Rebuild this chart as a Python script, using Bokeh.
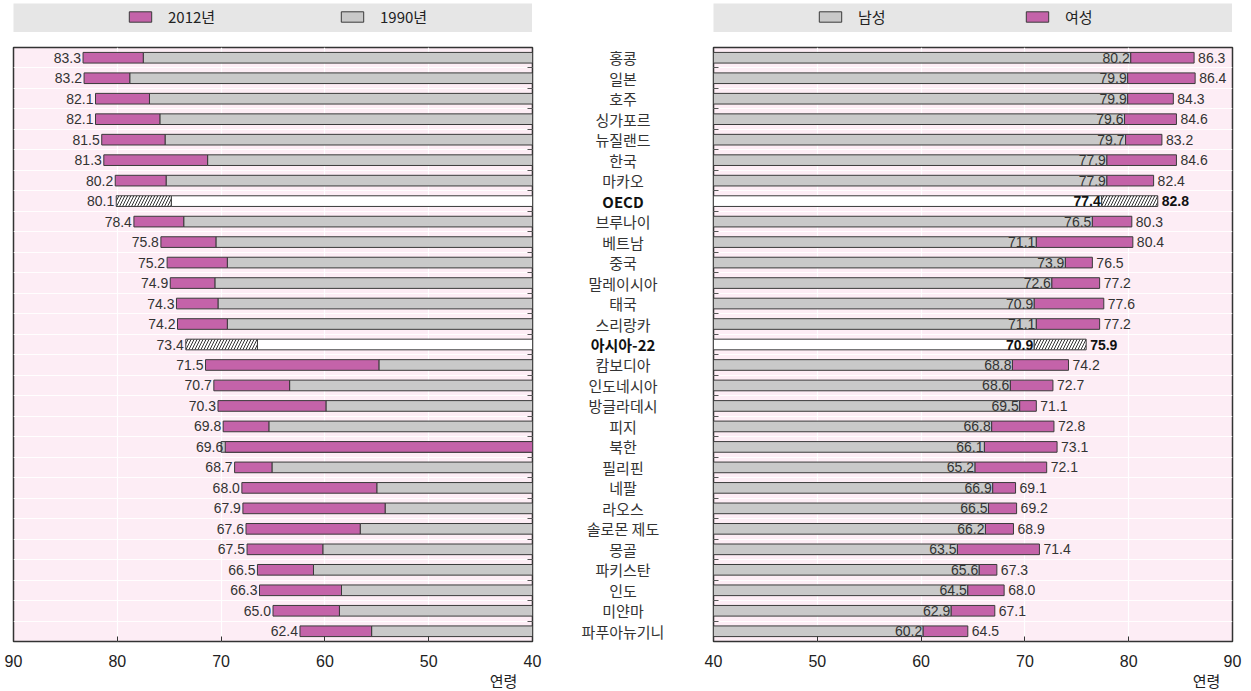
from bokeh.plotting import figure
from bokeh.models import (ColumnDataSource, Range1d, LinearAxis, FixedTicker, Grid,
                          Legend, LegendItem, CustomJSTickFormatter, Spacer)
from bokeh.layouts import row, column
from bokeh.core.properties import value
from bokeh.embed import file_html
from bokeh.resources import INLINE

# ---------------- data ----------------
countries = ["홍콩", "일본", "호주", "싱가포르", "뉴질랜드", "한국", "마카오", "OECD",
             "브루나이", "베트남", "중국", "말레이시아", "태국", "스리랑카", "아시아-22",
             "캄보디아", "인도네시아", "방글라데시", "피지", "북한", "필리핀", "네팔",
             "라오스", "솔로몬 제도", "몽골", "파키스탄", "인도", "미얀마", "파푸아뉴기니"]
le_2012 = [83.3, 83.2, 82.1, 82.1, 81.5, 81.3, 80.2, 80.1, 78.4, 75.8, 75.2, 74.9, 74.3,
           74.2, 73.4, 71.5, 70.7, 70.3, 69.8, 69.6, 68.7, 68.0, 67.9, 67.6, 67.5, 66.5,
           66.3, 65.0, 62.4]
le_1990 = [77.5, 78.8, 76.9, 75.9, 75.4, 71.3, 75.3, 74.8, 73.6, 70.5, 69.4, 70.6, 70.3,
           69.4, 66.5, 54.8, 63.4, 59.9, 65.4, 70.0, 65.1, 55.0, 54.2, 56.6, 60.2, 61.1,
           58.4, 58.6, 55.5]
male_2012 = [80.2, 79.9, 79.9, 79.6, 79.7, 77.9, 77.9, 77.4, 76.5, 71.1, 73.9, 72.6, 70.9,
             71.1, 70.9, 68.8, 68.6, 69.5, 66.8, 66.1, 65.2, 66.9, 66.5, 66.2, 63.5, 65.6,
             64.5, 62.9, 60.2]
female_2012 = [86.3, 86.4, 84.3, 84.6, 83.2, 84.6, 82.4, 82.8, 80.3, 80.4, 76.5, 77.2, 77.6,
               77.2, 75.9, 74.2, 72.7, 71.1, 72.8, 73.1, 72.1, 69.1, 69.2, 68.9, 71.4, 67.3,
               68.0, 67.1, 64.5]
aggregates = ["OECD", "아시아-22"]
x_ticks = [40, 50, 60, 70, 80, 90]
legend_left = ["2012년", "1990년"]
legend_right = ["남성", "여성"]
axis_title = "연령"

# ---------------- style ----------------
KR = "Noto Sans CJK KR"
NUM = "Liberation Sans"
PINK = "#c463a9"
GRAY = "#c9c9c9"
EDGE = "#3a3a3a"
BG = "#fdedf5"
BAND = "#e6e6e6"
BASE = 40
BAR_H = 0.52

n = len(countries)
idx = list(range(n))
is_agg = [c in aggregates for c in countries]
bounds = [i + 0.5 for i in range(n - 1)]
yr = Range1d(n - 0.5, -0.5)

gfill = ["white" if a else GRAY for a in is_agg]
pfill = ["white" if a else PINK for a in is_agg]
hatch = ["/" if a else " " for a in is_agg]
fstyle = ["bold" if a else "normal" for a in is_agg]
tcol = ["#111111" if a else "#333333" for a in is_agg]


def make_panel(xr, tick_side, title_x, border_left, border_right):
    p = figure(frame_width=519, frame_height=594, x_range=xr, y_range=yr,
               x_axis_type=None, y_axis_type=None, output_backend="svg",
               toolbar_location=None, min_border_top=15, min_border_bottom=0,
               min_border_left=border_left, min_border_right=border_right,
               background_fill_color=BG, border_fill_color="white",
               outline_line_color="#333333", outline_line_width=1.5)
    p.add_layout(Grid(dimension=0, ticker=FixedTicker(ticks=x_ticks[1:-1]),
                      grid_line_color="white", grid_line_width=1.2))
    p.add_layout(Grid(dimension=1, ticker=FixedTicker(ticks=bounds),
                      grid_line_color="white", grid_line_width=1, grid_line_alpha=0.9))
    ax = LinearAxis(ticker=FixedTicker(ticks=x_ticks), major_tick_in=5, major_tick_out=0,
                    minor_tick_in=0, minor_tick_out=0, axis_line_color=None,
                    major_tick_line_color="#333333", major_label_text_font=NUM,
                    major_label_text_font_size="16px", major_label_text_color="#222222",
                    major_label_standoff=13)
    p.add_layout(ax, "below")
    ax2 = LinearAxis(ticker=FixedTicker(ticks=[title_x]),
                     formatter=CustomJSTickFormatter(code="return '%s'" % axis_title),
                     major_tick_in=0, major_tick_out=0, minor_tick_in=0, minor_tick_out=0,
                     axis_line_color=None, major_label_text_font=KR,
                     major_label_text_font_size="15px", major_label_text_color="#222222",
                     major_label_standoff=0)
    p.add_layout(ax2, "below")
    ay = LinearAxis(ticker=FixedTicker(ticks=bounds),
                    formatter=CustomJSTickFormatter(code="return ''"),
                    major_tick_in=5, major_tick_out=0, minor_tick_in=0, minor_tick_out=0,
                    axis_line_color=None, major_tick_line_color="#555555",
                    major_label_text_font_size="0px", major_label_standoff=0)
    p.add_layout(ay, tick_side)
    return p


# ---------------- left panel: 2012 vs 1990 ----------------
pink_end = [b if a > b else BASE for a, b in zip(le_2012, le_1990)]
src_l = ColumnDataSource(dict(y=idx, v12=le_2012, v90=le_1990, pend=pink_end,
                              base=[BASE] * n, gfill=gfill, pfill=pfill, hatch=hatch,
                              lab=["%.1f" % v for v in le_2012]))
left = make_panel(Range1d(90, 40), "right", 42.8, 13, 10)
left.hbar(y="y", left="base", right="v90", height=BAR_H, fill_color="gfill",
          line_color=EDGE, line_width=1, source=src_l)
left.hbar(y="y", left="v12", right="pend", height=BAR_H, fill_color="pfill",
          hatch_pattern="hatch", hatch_color="#333333", hatch_scale=6, hatch_weight=1,
          line_color=EDGE, line_width=1, source=src_l)
left.text(x="v12", y="y", text="lab", x_offset=-2, text_align="right",
          text_baseline="middle", text_font=value(NUM), text_font_size="14px",
          text_color="#333333", source=src_l)

# ---------------- middle: country names ----------------
mid = figure(frame_width=161, frame_height=594, x_range=Range1d(0, 1), y_range=yr,
             x_axis_type=None, y_axis_type=None, output_backend="svg",
             toolbar_location=None, min_border_top=15, min_border_bottom=0,
             min_border_left=0, min_border_right=0, outline_line_color=None,
             background_fill_color="white", border_fill_color="white")
src_m = ColumnDataSource(dict(y=idx, x=[0.5] * n, name=countries, st=fstyle, col=tcol))
mid.text(x="x", y="y", text="name", text_align="center", text_baseline="middle",
         text_font=value(KR), text_font_size="15px", text_font_style="st",
         text_color="col", source=src_m)

# ---------------- right panel: male vs female ----------------
src_r = ColumnDataSource(dict(y=idx, m=male_2012, f=female_2012, base=[BASE] * n,
                              gfill=gfill, pfill=pfill, hatch=hatch, st=fstyle, col=tcol,
                              mlab=["%.1f" % v for v in male_2012],
                              flab=["%.1f" % v for v in female_2012]))
right = make_panel(Range1d(40, 90), "left", 87.5, 10, 11)
right.hbar(y="y", left="base", right="m", height=BAR_H, fill_color="gfill",
           line_color=EDGE, line_width=1, source=src_r)
right.hbar(y="y", left="m", right="f", height=BAR_H, fill_color="pfill",
           hatch_pattern="hatch", hatch_color="#333333", hatch_scale=6, hatch_weight=1,
           line_color=EDGE, line_width=1, source=src_r)
right.text(x="m", y="y", text="mlab", x_offset=-1, text_align="right",
           text_baseline="middle", text_font=value(NUM), text_font_size="14px",
           text_font_style="st", text_color="col", source=src_r)
right.text(x="f", y="y", text="flab", x_offset=4, text_align="left",
           text_baseline="middle", text_font=value(NUM), text_font_size="14px",
           text_font_style="st", text_color="col", source=src_r)


# ---------------- legend strips ----------------
def legend_strip(labels, fills, x0, spacing):
    lg = figure(width=519, height=29, x_range=Range1d(0, 1), y_range=Range1d(0, 1),
                x_axis_type=None, y_axis_type=None, output_backend="svg",
                toolbar_location=None, min_border=0, background_fill_color=BAND,
                border_fill_color=BAND, outline_line_color=None)
    items = []
    for lab, fc in zip(labels, fills):
        # off-range proxy glyph used only for the legend swatch
        r = lg.quad(left=[-3], right=[-2], top=[-2], bottom=[-3], fill_color=fc,
                    line_color=EDGE, line_width=1)
        items.append(LegendItem(label=lab, renderers=[r]))
    leg = Legend(items=items, orientation="horizontal", location=(x0, 5), padding=0,
                 margin=0, spacing=spacing, glyph_width=28, glyph_height=13,
                 label_standoff=14, label_width=60, label_height=18,
                 label_text_font=KR, label_text_font_size="15px",
                 label_text_color="#222222", background_fill_alpha=0,
                 border_line_alpha=0)
    lg.add_layout(leg)
    return lg


legL = legend_strip(legend_left, [PINK, GRAY], 113, 110)
legR = legend_strip(legend_right, [GRAY, PINK], 103, 105)

top = column(Spacer(width=10, height=3),
             row(Spacer(width=13, height=29), legL, Spacer(width=181, height=29), legR))
main = row(left, mid, right)
page = column(top, main)

open("out.html", "w").write(file_html(page, INLINE))
